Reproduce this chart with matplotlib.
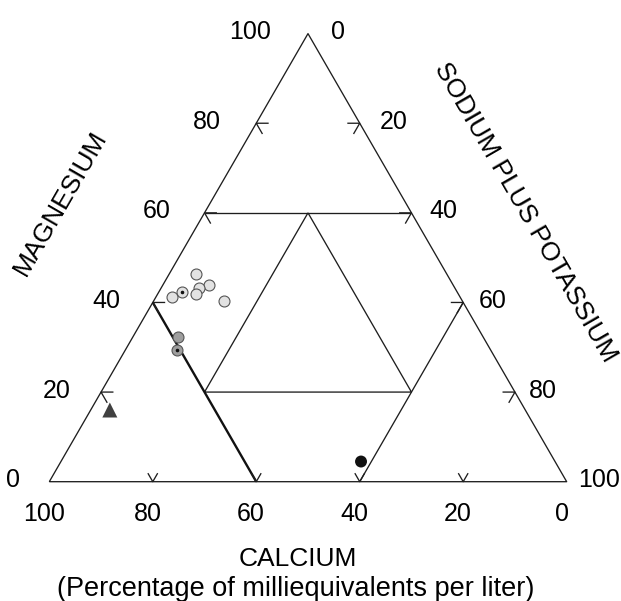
import numpy as np
import matplotlib
matplotlib.use("Agg")
import matplotlib.pyplot as plt

plt.rcParams["font.family"] = ["Liberation Sans", "DejaVu Sans"]

# --- cation percentages (milliequivalents per liter) ---
# light gray circles
mg_light = [46.3, 44.0, 43.2, 42.4, 41.3, 41.8, 40.3]
na_light = [5.2, 8.8, 7.4, 4.4, 3.1, 7.4, 13.7]
dot_light = [False, False, False, True, False, False, False]
# dark gray circles
mg_dark = [32.2, 29.4]
na_dark = [8.7, 10.0]
dot_dark = [False, True]
# triangle sample
mg_tri = [16.0]
na_tri = [3.7]
# black circle sample
mg_blk = [4.5]
na_blk = [58.0]

tick_vals = [20, 40, 60, 80]
label_vals = [0, 20, 40, 60, 80, 100]

S3 = np.sqrt(3) / 2


def tern(ca, mg, na):
    """ternary (Ca, Mg, Na+K) -> cartesian, Ca at lower left, Mg at top"""
    ca, mg, na = np.asarray(ca, float), np.asarray(mg, float), np.asarray(na, float)
    return na + mg / 2.0, mg * S3


def pts(mg, na):
    mg, na = np.asarray(mg, float), np.asarray(na, float)
    return tern(100 - mg - na, mg, na)


fig = plt.figure(figsize=(6.21, 6.01), dpi=100)
ax = fig.add_axes([0, 0, 1, 1])
ax.set_xlim(-9.53, 110.5)
ax.set_ylim(-23.06, 93.1)
ax.axis("off")

lw = 0.95
kw = dict(color="#1e1e1e", lw=lw, solid_capstyle="butt")

# outer triangle
x, y = tern([100, 0, 0, 100], [0, 0, 100, 0], [0, 100, 0, 0])
ax.plot(x, y, **kw)

# inner triangle
x, y = tern([20, 60, 20, 20], [60, 20, 20, 60], [20, 20, 60, 20])
ax.plot(x, y, **kw)

# Mg = 60 across, Na = 60 to the right edge, Ca = 60 to the left edge (heavier)
x, y = tern([40, 0], [60, 60], [0, 40])
ax.plot(x, y, **kw)
x, y = tern([40, 0], [0, 40], [60, 60])
ax.plot(x, y, **kw)
x, y = tern([60, 60], [0, 40], [40, 0])
ax.plot(x, y, color="#111111", lw=1.7, solid_capstyle="butt")


def arrow_tick(x0, y0, d1, d2, L=2.4):
    ax.plot([x0 + d1[0] * L, x0, x0 + d2[0] * L],
            [y0 + d1[1] * L, y0, y0 + d2[1] * L], **kw)


for v in tick_vals:
    # left edge (Mg)
    x0, y0 = tern(100 - v, v, 0)
    arrow_tick(x0, y0, (1, 0), (0.5, -S3))
    # right edge (Na+K)
    x0, y0 = tern(0, 100 - v, v)
    arrow_tick(x0, y0, (-1, 0), (-0.5, -S3))
    # base (Ca)
    x0, y0 = tern(v, 0, 100 - v)
    arrow_tick(x0, y0, (-0.5, S3), (0.5, S3), L=1.9)

fs = 18
fs_title = 19
for v in label_vals:
    # Mg labels, left side
    x0, y0 = tern(100 - v, v, 0)
    ax.text(x0 - (5.6 + 0.015 * v), y0 + 0.3, str(v), fontsize=fs,
            ha="right", va="center")
    # Na+K labels, right side
    x0, y0 = tern(0, 100 - v, v)
    ax.text(x0 + (4.4 - 0.022 * v), y0 + 0.3, str(v), fontsize=fs,
            ha="left", va="center")
    # Ca labels, bottom
    x0, y0 = tern(v, 0, 100 - v)
    ax.text(x0 - 1.0, y0 - 6.2, str(v), fontsize=fs, ha="center", va="center")

ax.text(2.1, 53.9, "MAGNESIUM", fontsize=fs_title, rotation=60,
        rotation_mode="anchor", ha="center", va="center")
ax.text(92.1, 52.1, "SODIUM PLUS POTASSIUM", fontsize=fs_title, rotation=-60,
        rotation_mode="anchor", ha="center", va="center")
ax.text(48.0, -14.9, "CALCIUM", fontsize=fs_title, ha="center", va="center")
ax.text(47.7, -20.7, "(Percentage of milliequivalents per liter)",
        fontsize=19.5, ha="center", va="center")

# samples
edge = "#555555"
x, y = pts(mg_light, na_light)
ax.scatter(x, y, s=7.9 ** 2, c="#e2e2e2", edgecolors=edge, linewidths=0.8, zorder=3)
ax.scatter(x[np.array(dot_light)], y[np.array(dot_light)], s=2.5, c="#111111", zorder=4)

x, y = pts(mg_dark, na_dark)
ax.scatter(x, y, s=7.9 ** 2, c="#9e9e9e", edgecolors=edge, linewidths=0.8, zorder=3)
ax.scatter(x[np.array(dot_dark)], y[np.array(dot_dark)], s=2.5, c="#111111", zorder=4)

x, y = pts(mg_tri, na_tri)
ax.scatter(x, y, s=10.8 ** 2, marker="^", c="#404040", edgecolors="none", zorder=3)

x, y = pts(mg_blk, na_blk)
ax.scatter(x, y, s=8.6 ** 2, c="#111111", edgecolors="none", zorder=3)

fig.savefig("out.png", dpi=100)
